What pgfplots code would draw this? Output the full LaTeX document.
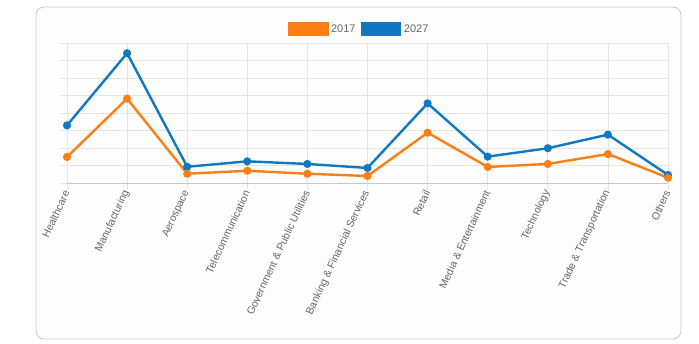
\documentclass[border=0pt]{standalone}
\usepackage{pgfplots}
\pgfplotsset{compat=1.18}
\usepackage{fontspec}
\setmainfont{Liberation Sans}
\definecolor{cA}{HTML}{FD7E14}
\definecolor{cB}{HTML}{0F78C0}
\definecolor{gridc}{HTML}{E4E4E4}
\definecolor{axc}{HTML}{C8C8C8}
\definecolor{txt}{HTML}{666666}
\definecolor{frame}{HTML}{CCCCCC}
\definecolor{bg}{HTML}{FDFDFD}
\begin{document}
\begin{tikzpicture}[x=1pt,y=1pt]
\path[use as bounding box] (0,0) rectangle (699,344);
\draw[draw=frame, fill=bg, rounded corners=8pt, line width=0.9pt] (36,5) rectangle (681,337);
\begin{axis}[
  at={(67pt,161pt)}, anchor=south west, scale only axis,
  width=601pt, height=139.7pt,
  xmin=0, xmax=10, ymin=0, ymax=8, clip=false,
  xtick={0,...,10},
  xticklabels={Healthcare,Manufacturing,Aerospace,Telecommunication,Government \& Public Utilities,Banking \& Financial Services,Retail,Media \& Entertainment,Technology,Trade \& Transportation,Others},
  ytick={0,...,8}, yticklabels={},
  grid=major, grid style={gridc, line width=0.8pt},
  axis line style={draw=gridc, line width=0.8pt},
  tick pos=left, tick align=outside, major tick length=7pt,
  tick style={gridc, line width=0.8pt},
  xticklabel style={rotate=65, anchor=east, font=\fontsize{10.5}{12}\selectfont, text=txt, inner sep=1pt},
  legend style={at={(0.5,1)}, anchor=center, xshift=-8pt, yshift=14pt, draw=none, fill=none,
    legend columns=2, font=\fontsize{11}{13}\selectfont, text=txt,
    nodes={inner sep=2.5pt},
    /tikz/every even column/.append style={column sep=3pt}},
  legend image code/.code={\fill[#1] (0pt,-6pt) rectangle (38pt,6pt);},
  reverse legend,
]
\addplot[color=cB, line width=2.4pt, mark=*, mark size=2.8pt, mark options={solid}] coordinates {
(0,3.30)(1,7.43)(2,0.93)(3,1.24)(4,1.09)(5,0.86)(6,4.56)(7,1.51)(8,1.99)(9,2.77)(10,0.46)};
\addlegendentry{2027}
\addplot[color=cA, line width=2.4pt, mark=*, mark size=2.8pt, mark options={solid}] coordinates {
(0,1.49)(1,4.83)(2,0.53)(3,0.70)(4,0.53)(5,0.40)(6,2.88)(7,0.92)(8,1.09)(9,1.66)(10,0.30)};
\addlegendentry{2017}
\draw[axc, line width=0.9pt] (axis cs:0,0) -- (axis cs:10,0);
\end{axis}
\end{tikzpicture}
\end{document}
